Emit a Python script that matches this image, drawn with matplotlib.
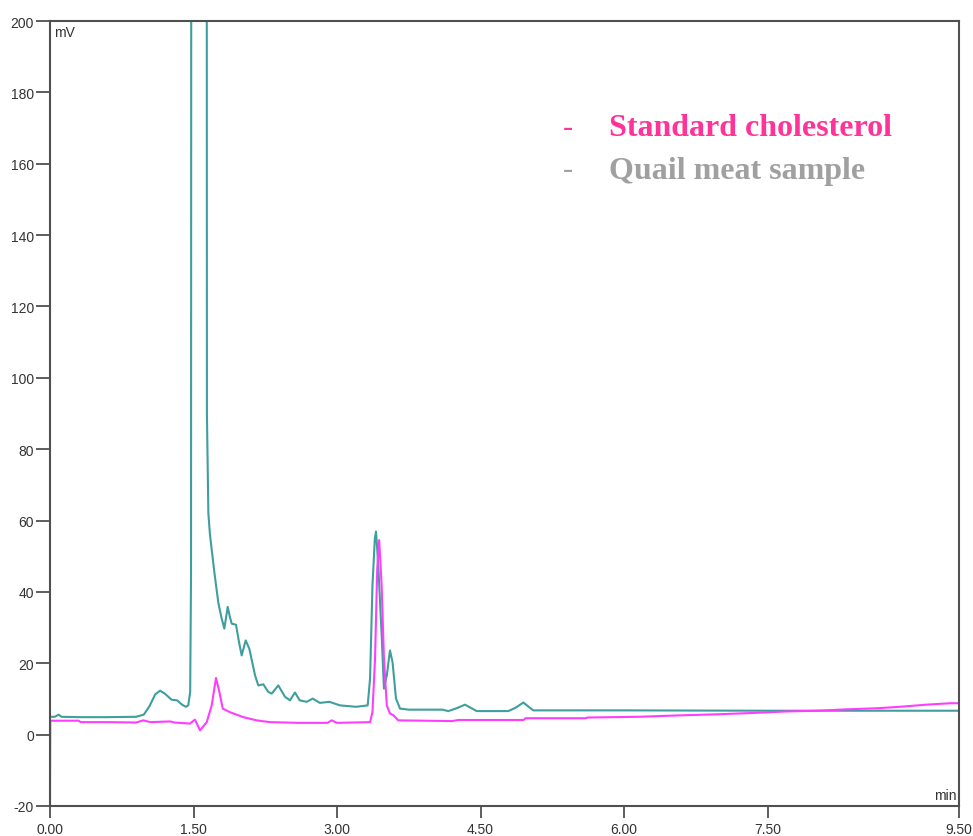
import matplotlib
matplotlib.use("Agg")
from matplotlib import pyplot as plt
from matplotlib.ticker import FixedLocator, FixedFormatter

plt.rcParams['axes.unicode_minus'] = False

# retention time (min) and detector signal (mV)
quail_t = [0, 0.05, 0.09, 0.12, 0.3, 0.6, 0.9, 0.98, 1.04, 1.1, 1.15, 1.2, 1.27,
           1.33, 1.38, 1.42, 1.445, 1.465, 1.474, 1.478, 1.55, 1.636, 1.64, 1.655,
           1.672, 1.72, 1.759, 1.79, 1.822, 1.857, 1.88, 1.899, 1.944, 1.975, 2.003,
           2.045, 2.083, 2.143, 2.177, 2.23, 2.28, 2.317, 2.386, 2.456, 2.508, 2.56,
           2.61, 2.683, 2.745, 2.82, 2.92, 3.03, 3.2, 3.32, 3.345, 3.37, 3.395,
           3.407, 3.42, 3.435, 3.466, 3.49, 3.52, 3.553, 3.58, 3.616, 3.658, 3.75,
           4.1, 4.163, 4.25, 4.337, 4.46, 4.79, 4.87, 4.947, 5.05, 6.0, 7.5, 9.5]
quail_mv = [5.0, 5.0, 5.6, 5.0, 4.9, 4.9, 5.0, 5.6, 8.0, 11.3, 12.3, 11.5, 9.8,
            9.6, 8.4, 7.8, 8.2, 12, 45, 400, 650, 400, 90, 62,
            56, 45, 37, 33, 29.7, 35.8, 33, 31.1, 30.8, 26, 22.2,
            26.4, 24.1, 16.6, 13.8, 14.1, 12.0, 11.5, 13.8, 10.6, 9.6, 11.8,
            9.6, 9.2, 10.1, 8.9, 9.2, 8.2, 7.8, 8.2, 15.7, 41.8, 55,
            56.9, 52, 45, 28, 12.9, 16.6, 23.6, 20.3, 10.1, 7.3, 7.0,
            7.0, 6.6, 7.4, 8.4, 6.6, 6.6, 7.6, 9.0, 6.8, 6.8, 6.7, 6.7]

std_t = [0, 0.003, 0.3, 0.32, 0.6, 0.9, 0.975, 1.05, 1.254, 1.3, 1.463, 1.515,
         1.568, 1.638, 1.69, 1.735, 1.77, 1.805, 1.88, 2.02, 2.16, 2.3, 2.6, 2.9,
         2.944, 3.0, 3.345, 3.37, 3.397, 3.42, 3.44, 3.466, 3.49, 3.52, 3.553,
         3.59, 3.64, 4.2, 4.27, 4.95, 4.97, 5.6, 5.62, 6.15, 6.58, 6.97, 7.37,
         7.7, 8.03, 8.33, 8.65, 8.88, 9.16, 9.41, 9.5]
std_mv = [-20, 3.9, 3.9, 3.5, 3.5, 3.4, 4.0, 3.5, 3.7, 3.4, 3.1, 4.2,
          1.2, 3.5, 8.2, 15.9, 12.0, 7.3, 6.3, 4.9, 4.0, 3.5, 3.3, 3.3,
          4.0, 3.3, 3.5, 6.3, 21.3, 46.5, 54.5, 41.8, 21.3, 8.2, 5.9,
          5.4, 4.0, 3.8, 4.1, 4.1, 4.6, 4.6, 4.8, 5.0, 5.4, 5.7, 6.1,
          6.5, 6.7, 7.1, 7.4, 7.8, 8.4, 8.8, 8.8]

x_ticks = [0, 1.5, 3.0, 4.5, 6.0, 7.5, 9.5]
y_ticks = list(range(-20, 201, 20))

fig = plt.figure(figsize=(9.73, 8.37), dpi=100)
ax = fig.add_axes([50 / 973, 30 / 837, 909 / 973, 785 / 837])

ax.plot(quail_t, quail_mv, color='#3f9e9e', lw=1.5)
ax.plot(std_t, std_mv, color='#ff3dff', lw=1.5)

ax.set_xlim(0, 9.5)
ax.set_ylim(-20, 200)

ax.xaxis.set_major_locator(FixedLocator(x_ticks))
ax.xaxis.set_major_formatter(FixedFormatter(['%.2f' % t for t in x_ticks]))
ax.yaxis.set_major_locator(FixedLocator(y_ticks))

for s in ax.spines.values():
    s.set_color('#505050')
    s.set_linewidth(1.5)
ax.tick_params(axis='y', direction='out', length=10, width=1.3, color='#505050',
               pad=1.5, labelsize=10, labelcolor='#333333')
ax.tick_params(axis='x', direction='out', length=8.5, width=1.3, color='#505050',
               pad=3, labelsize=10, labelcolor='#333333')
for lab in ax.get_xticklabels() + ax.get_yticklabels():
    lab.set_fontfamily('Liberation Sans')

ax.text(0.005, 0.995, 'mV', transform=ax.transAxes, ha='left', va='top',
        fontsize=10, color='#333333', family='Liberation Sans')
ax.text(0.997, 0.005, 'min', transform=ax.transAxes, ha='right', va='bottom',
        fontsize=10, color='#333333', family='Liberation Sans')

# legend drawn as free text
fig.text(563 / 973, 1 - 128 / 837, '-', color='#ff3399', fontsize=22,
         family='Liberation Serif', va='center')
fig.text(609 / 973, 1 - 128 / 837, 'Standard cholesterol', color='#ff3399',
         fontsize=23, fontweight='bold', family='Liberation Serif', va='center')
fig.text(563 / 973, 1 - 171 / 837, '-', color='#a0a0a0', fontsize=22,
         family='Liberation Serif', va='center')
fig.text(609 / 973, 1 - 171 / 837, 'Quail meat sample', color='#a0a0a0',
         fontsize=23, fontweight='bold', family='Liberation Serif', va='center')

fig.savefig('out.png', dpi=100)
